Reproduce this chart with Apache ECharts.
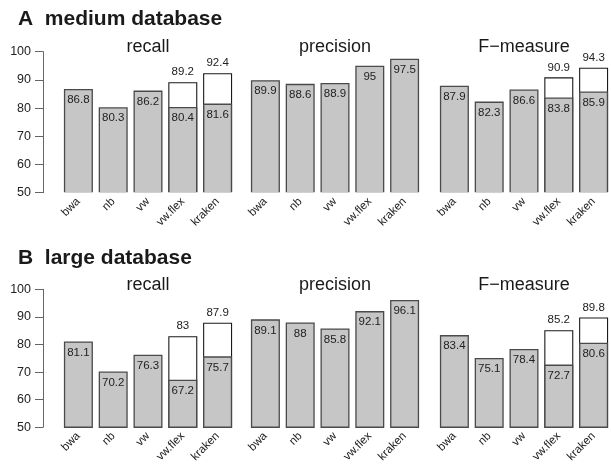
<!DOCTYPE html>
<html>
<head>
<meta charset="utf-8">
<script src="https://cdn.jsdelivr.net/npm/echarts@6/dist/echarts.min.js"></script>
<style>
html,body{margin:0;padding:0;background:#fff;}
#chart{width:611px;height:465px;}
</style>
</head>
<body>
<div id="chart"></div>
<script>
// ---- data ----
const methods = ['bwa', 'nb', 'vw', 'vw.flex', 'kraken'];
const yTicks = [50, 60, 70, 80, 90, 100];
const panelTitles = ['A  medium database', 'B  large database'];
const metricTitles = ['recall', 'precision', 'F\u2212measure'];

const mediumRecall = [86.8, 80.3, 86.2, 80.4, 81.6];
const mediumRecallTotal = [null, null, null, 89.2, 92.4];
const mediumPrecision = [89.9, 88.6, 88.9, 95, 97.5];
const mediumF = [87.9, 82.3, 86.6, 83.8, 85.9];
const mediumFTotal = [null, null, null, 90.9, 94.3];

const largeRecall = [81.1, 70.2, 76.3, 67.2, 75.7];
const largeRecallTotal = [null, null, null, 83, 87.9];
const largePrecision = [89.1, 88, 85.8, 92.1, 96.1];
const largeF = [83.4, 75.1, 78.4, 72.7, 80.6];
const largeFTotal = [null, null, null, 85.2, 89.8];

// ---- layout ----
const FONT = '"Liberation Sans", Arial, Helvetica, sans-serif';
const colLeft = [61, 248, 437];
const colWidth = 174;
const rowTop = [51.7, 289.3];
const rowHeight = 141;

const panels = [
  [[mediumRecall, mediumRecallTotal], [mediumPrecision, null], [mediumF, mediumFTotal]],
  [[largeRecall, largeRecallTotal], [largePrecision, null], [largeF, largeFTotal]]
];

const grid = [], xAxis = [], yAxis = [], series = [], graphic = [];
let idx = 0;
for (let r = 0; r < 2; r++) {
  graphic.push({
    type: 'text', x: 18, y: [19.5, 258][r],
    style: { text: panelTitles[r], font: 'bold 21px ' + FONT, fill: '#1a1a1a', verticalAlign: 'middle', align: 'left' }
  });
  // hide the clipped bottom edge of the bars (bars rise from the plot floor)
  graphic.push({
    type: 'rect', z: 100,
    shape: { x: 55, y: rowTop[r] + rowHeight - 0.5, width: 560, height: 2.5 },
    style: { fill: '#ffffff' }
  });
  for (let c = 0; c < 3; c++) {
    grid.push({ left: colLeft[c], top: rowTop[r], width: colWidth, height: rowHeight });
    graphic.push({
      type: 'text', x: colLeft[c] + colWidth / 2, y: rowTop[r] - 4.7,
      style: { text: metricTitles[c], font: '18px ' + FONT, fill: '#1a1a1a', align: 'center', verticalAlign: 'middle' }
    });
    xAxis.push({
      type: 'category', gridIndex: idx, data: methods,
      axisLine: { show: false }, axisTick: { show: false },
      axisLabel: { rotate: 45, fontSize: 11.5, fontFamily: FONT, color: '#222', margin: 7, interval: 0 }
    });
    yAxis.push({
      type: 'value', gridIndex: idx, min: 50, max: 100, interval: 10,
      show: c === 0, offset: 18,
      axisLine: { show: true, lineStyle: { color: '#666', width: 1 } },
      axisTick: { show: true, length: 8, lineStyle: { color: '#666', width: 1 } },
      axisLabel: { fontSize: 12.5, fontFamily: FONT, color: '#222', margin: 12 },
      splitLine: { show: false }
    });
    const base = panels[r][c][0];
    const total = panels[r][c][1];
    if (total) {
      series.push({
        type: 'bar', xAxisIndex: idx, yAxisIndex: idx, data: total, barWidth: 29, barGap: '-100%',
        clip: true, animation: false,
        itemStyle: { color: '#ffffff', borderColor: '#1a1a1a', borderWidth: 1.1 },
        label: { show: true, position: 'top', distance: 4, fontSize: 11.5, fontFamily: FONT, color: '#222' }
      });
    }
    series.push({
      type: 'bar', xAxisIndex: idx, yAxisIndex: idx, data: base, barWidth: 29, barGap: '-100%',
      clip: true, animation: false,
      itemStyle: { color: '#c6c6c6', borderColor: '#4a4a4a', borderWidth: 1.3 },
      label: { show: true, position: 'insideTop', distance: 5, fontSize: 11.5, fontFamily: FONT, color: '#222' }
    });
    idx++;
  }
}

const chart = echarts.init(document.getElementById('chart'), null, { renderer: 'canvas' });
chart.setOption({
  animation: false,
  backgroundColor: '#ffffff',
  grid: grid, xAxis: xAxis, yAxis: yAxis, series: series, graphic: graphic
});
</script>
</body>
</html>
